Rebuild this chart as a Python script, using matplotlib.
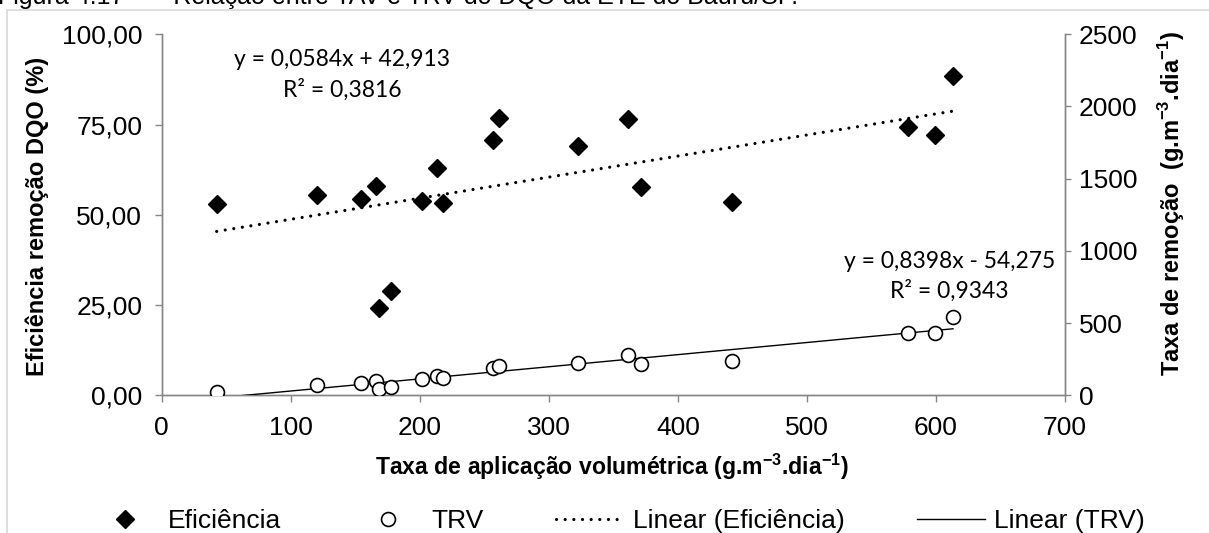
import numpy as np
import matplotlib
matplotlib.use("Agg")
import matplotlib.pyplot as plt
from matplotlib.lines import Line2D
from matplotlib.patches import Rectangle

# Data
taxa = [42.6, 120.0, 154.1, 165.8, 168.1, 177.9, 201.4, 213.0, 218.2, 256.4,
        261.6, 322.7, 361.4, 371.7, 442.2, 578.3, 599.6, 613.2]
eficiencia = [53.0, 55.5, 54.3, 58.0, 24.2, 28.9, 53.8, 62.9, 53.2, 70.7,
              76.8, 69.1, 76.5, 57.6, 53.5, 74.4, 72.1, 88.4]
trv = [26, 72, 88, 100, 45, 56, 112, 137, 119, 188,
       206, 226, 279, 217, 238, 433, 433, 543]

# trend line coefficients (slope, intercept) as printed on the chart
fit_eficiencia = [0.0584, 42.913]
fit_trv = [0.8398, -54.275]

xticks = [0, 100, 200, 300, 400, 500, 600, 700]
yticks_left = [0, 25, 50, 75, 100]
yticks_left_labels = ["0,00", "25,00", "50,00", "75,00", "100,00"]
yticks_right = [0, 500, 1000, 1500, 2000, 2500]

plt.rcParams['font.family'] = ['Liberation Sans', 'DejaVu Sans']
plt.rcParams['mathtext.fontset'] = 'custom'
plt.rcParams['mathtext.rm'] = 'Liberation Sans'
plt.rcParams['mathtext.bf'] = 'Liberation Sans:bold'

W, H = 1209, 533
fig = plt.figure(figsize=(W / 100, H / 100), dpi=100)

# light frame and the caption above it (cut off at the top, as in the source)
fig.patches.append(Rectangle((7 / W, 0 - 0.05), 1.1, 1 - 10 / H + 0.05,
                             transform=fig.transFigure, fill=False,
                             edgecolor='#d9d9d9', linewidth=1.2))
fig.text(-2 / W, 1 - 4 / H, "Figura 4.17 –    Relação entre TAV e TRV do DQO da ETE do Bauru/SP.",
         fontsize=18, va='baseline', ha='left')

left, right = 161.7 / W, 1065 / W
bottom, top = 1 - 395.3 / H, 1 - 34.3 / H
ax = fig.add_axes([left, bottom, right - left, top - bottom])
ax2 = ax.twinx()

spine_col = '#868686'
for a in (ax, ax2):
    a.spines['top'].set_visible(False)
    for s in ('left', 'right', 'bottom'):
        a.spines[s].set_color(spine_col)
        a.spines[s].set_linewidth(1.0)
    a.patch.set_visible(False)

ax.set_xlim(0, 700)
ax.set_ylim(0, 100)
ax2.set_ylim(0, 2500)
ax.set_xticks(xticks)
ax.set_yticks(yticks_left)
ax.set_yticklabels(yticks_left_labels)
ax2.set_yticks(yticks_right)
ax.tick_params(axis='y', length=5, width=1, color=spine_col, labelsize=19, pad=9)
ax.tick_params(axis='x', length=5, width=1, color=spine_col, labelsize=19, pad=10)
ax2.tick_params(axis='y', length=4, width=1, color=spine_col, labelsize=19, pad=6)

# scatter points
ax.plot(taxa, eficiencia, linestyle='none', marker='D', markersize=9.5,
        color='black', zorder=4)
ax2.plot(taxa, trv, linestyle='none', marker='o', markersize=10,
         markerfacecolor='white', markeredgecolor='black', markeredgewidth=1.2, zorder=4)

# trend lines
xs = np.array([min(taxa), max(taxa)])
ax.plot(xs, fit_eficiencia[0] * xs + fit_eficiencia[1], color='black', lw=2.3,
        linestyle=(0, (0.01, 2.7)), dash_capstyle='round', zorder=3)
ax2.plot(xs, fit_trv[0] * xs + fit_trv[1], color='black', lw=1.0, zorder=3)

eq_font = ['Lato', 'DejaVu Sans']
ax.text(139.7, 88.7, "y = 0,0584x + 42,913\nR² = 0,3816", ha='center', va='center',
        multialignment='center', fontsize=16.5, family=eq_font, linespacing=1.45)
ax.text(610.6, 32.9, "y = 0,8398x - 54,275\nR² = 0,9343", ha='center', va='center',
        multialignment='center', fontsize=16.5, family=eq_font, linespacing=1.45)

# axis titles
fig.text(37 / W, 1 - 216 / H, "Eficiência remoção DQO (%)", rotation=90,
         ha='center', va='center', fontsize=17, fontweight='bold')
fig.text(1172 / W, 1 - 203 / H,
         r"Taxa de remoção  (g.m$^{\mathbf{-3}}$.dia$^{\mathbf{-1}}$)", rotation=90,
         ha='center', va='center', fontsize=17, fontweight='bold')
fig.text(612 / W, 1 - 467 / H,
         r"Taxa de aplicação volumétrica (g.m$^{\mathbf{-3}}$.dia$^{\mathbf{-1}}$)",
         ha='center', va='center', fontsize=16.6, fontweight='bold')

handles = [
    Line2D([], [], linestyle='none', marker='D', markersize=9.5, color='black'),
    Line2D([], [], linestyle='none', marker='o', markersize=10, markerfacecolor='white',
           markeredgecolor='black', markeredgewidth=1.2),
    Line2D([], [], color='black', lw=2.3, linestyle=(0, (0.01, 2.7)), dash_capstyle='round'),
    Line2D([], [], color='black', lw=1.0),
]
labels = ["Eficiência", "TRV", "Linear (Eficiência)", "Linear (TRV)"]
fig.legend(handles, labels, loc='center', bbox_to_anchor=(618 / W, 1 - 521 / H),
           ncol=4, frameon=False, fontsize=19, handlelength=2.57,
           handletextpad=0.35, columnspacing=2.75, borderpad=0, borderaxespad=0)

fig.savefig("out.png", dpi=100)
